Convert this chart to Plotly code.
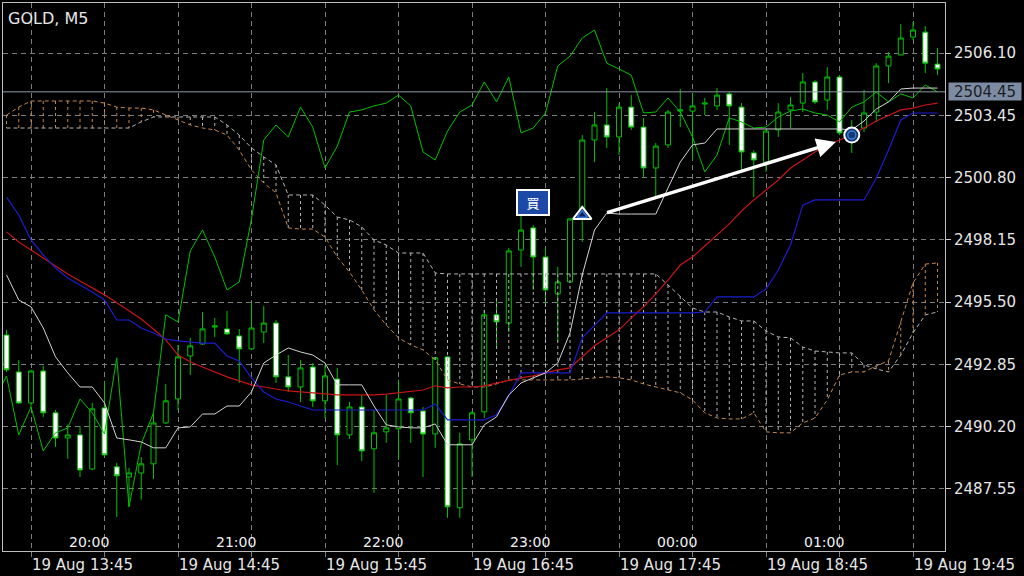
import plotly.graph_objects as go

# ---------------- data ----------------
first_bar = -2  # bar index 0 = 19 Aug 13:45 (M5 bars)

open_ = [2494.10, 2492.53, 2491.21, 2492.57, 2490.79, 2489.72, 2489.85, 2488.40, 2491.00, 2488.49,
         2488.06, 2488.23, 2488.62, 2490.36, 2491.38, 2493.21, 2493.72, 2494.44, 2494.36, 2494.06,
         2493.51, 2494.23, 2494.61, 2492.32, 2491.89, 2492.74, 2491.30, 2492.23, 2489.85, 2491.04,
         2489.26, 2489.98, 2490.11, 2491.42, 2490.87, 2489.89, 2493.17, 2486.75, 2489.64, 2490.83,
         2494.96, 2494.61, 2497.72, 2498.66, 2497.42, 2495.85, 2496.36, 2499.42, 2502.40, 2503.04,
         2502.53, 2503.80, 2502.95, 2501.21, 2502.19, 2503.63, 2503.63, 2503.93, 2503.85, 2504.36,
         2503.80, 2501.85, 2501.46, 2502.83, 2503.68, 2503.97, 2504.87, 2504.10, 2505.08, 2502.70,
         2502.91, 2503.59, 2505.55, 2506.02, 2506.78, 2506.99, 2505.63]
high = [2494.32, 2493.04, 2492.62, 2492.79, 2490.91, 2490.28, 2490.23, 2491.21, 2492.15, 2488.66,
        2488.45, 2488.91, 2490.79, 2492.02, 2493.68, 2493.98, 2495.08, 2494.83, 2495.12, 2494.36,
        2495.47, 2495.34, 2494.74, 2493.25, 2493.04, 2492.91, 2492.83, 2492.70, 2491.25, 2491.55,
        2490.91, 2491.55, 2492.19, 2491.47, 2491.04, 2493.17, 2493.21, 2489.94, 2490.87, 2495.17,
        2495.68, 2497.81, 2499.17, 2498.78, 2497.81, 2497.00, 2499.08, 2502.61, 2503.59, 2504.61,
        2503.97, 2504.31, 2503.34, 2502.27, 2503.68, 2504.57, 2504.40, 2504.19, 2504.61, 2504.44,
        2503.97, 2501.97, 2502.83, 2503.97, 2504.23, 2505.25, 2504.95, 2505.50, 2505.16, 2503.25,
        2504.53, 2505.67, 2506.14, 2507.33, 2507.42, 2507.25, 2506.31]
low = [2492.53, 2491.17, 2491.00, 2490.62, 2489.34, 2488.83, 2488.06, 2488.36, 2488.91, 2486.36,
       2486.79, 2487.09, 2487.98, 2490.32, 2490.91, 2492.40, 2493.68, 2494.02, 2494.10, 2492.06,
       2493.47, 2493.76, 2492.06, 2491.68, 2491.25, 2491.04, 2490.57, 2488.57, 2489.68, 2488.74,
       2487.38, 2489.51, 2488.79, 2489.51, 2488.06, 2489.30, 2486.32, 2486.32, 2488.06, 2490.57,
       2493.59, 2494.23, 2497.00, 2496.02, 2495.47, 2493.81, 2496.32, 2498.06, 2501.46, 2502.06,
       2501.76, 2502.83, 2500.83, 2499.97, 2502.06, 2502.95, 2501.55, 2503.46, 2503.68, 2502.19,
       2500.99, 2499.97, 2501.04, 2502.53, 2502.91, 2503.59, 2503.93, 2503.68, 2502.61, 2501.85,
       2502.74, 2503.17, 2504.82, 2506.00, 2506.65, 2505.25, 2505.16]
close = [2492.62, 2491.21, 2492.57, 2490.79, 2489.72, 2489.85, 2488.36, 2490.96, 2489.00, 2488.11,
         2488.23, 2488.62, 2490.36, 2491.30, 2493.17, 2493.64, 2494.36, 2494.49, 2494.15, 2493.51,
         2494.40, 2494.61, 2492.32, 2491.89, 2492.70, 2491.30, 2492.36, 2489.85, 2491.04, 2489.17,
         2489.94, 2490.15, 2491.38, 2490.79, 2489.89, 2493.13, 2486.79, 2489.47, 2490.79, 2494.96,
         2494.66, 2497.68, 2498.57, 2497.42, 2496.02, 2496.36, 2499.04, 2502.40, 2503.04, 2502.53,
         2503.80, 2502.95, 2501.21, 2502.14, 2503.59, 2503.68, 2503.85, 2503.97, 2504.31, 2503.85,
         2501.89, 2501.55, 2502.78, 2503.59, 2503.89, 2504.87, 2504.02, 2505.08, 2502.70, 2502.91,
         2503.55, 2505.55, 2505.97, 2506.74, 2507.08, 2505.67, 2505.42]
# closes of the 26 later bars (only visible through the lagging span)
future_close = [2505.16, 2503.55, 2503.59, 2504.19, 2503.59, 2502.53, 2501.04, 2501.76, 2503.34, 2503.17,
                2502.91, 2502.95, 2503.38, 2503.63, 2503.72, 2503.55, 2503.46, 2503.17, 2503.80, 2504.02,
                2504.44, 2504.02, 2504.36, 2504.19, 2504.74, 2504.45]
chikou_shift = 26

tenkan = [2496.66, 2495.59, 2495.30, 2494.40, 2493.17, 2492.49, 2491.89, 2491.89, 2491.21, 2489.72,
          2489.64, 2489.55, 2489.30, 2489.30, 2490.15, 2490.19, 2490.74, 2490.74, 2491.08, 2491.08,
          2491.68, 2492.91, 2493.25, 2493.55, 2493.38, 2493.25, 2492.91, 2491.98, 2491.98, 2491.98,
          2491.08, 2490.28, 2490.19, 2490.15, 2490.15, 2490.32, 2489.43, 2489.43, 2489.43, 2490.28,
          2490.62, 2491.55, 2492.06, 2492.28, 2492.49, 2492.91, 2494.19, 2496.66, 2498.57, 2499.29,
          2499.25, 2499.25, 2499.25, 2499.25, 2500.36, 2501.46, 2502.19, 2502.27, 2502.87, 2502.87,
          2502.87, 2502.87, 2502.87, 2502.87, 2502.87, 2502.87, 2502.87, 2502.87, 2502.87, 2502.83,
          2503.21, 2503.72, 2504.02, 2504.57, 2504.61, 2504.61, 2504.61]
kijun = [2499.97, 2499.21, 2498.15, 2497.51, 2496.95, 2496.53, 2496.23, 2495.93, 2495.59, 2494.74,
         2494.74, 2494.40, 2494.19, 2493.93, 2493.85, 2493.81, 2493.76, 2493.76, 2493.21, 2493.00,
         2492.28, 2491.68, 2491.38, 2491.25, 2491.08, 2490.91, 2490.91, 2490.91, 2490.91, 2490.91,
         2490.91, 2490.91, 2490.91, 2490.91, 2490.91, 2491.17, 2490.49, 2490.49, 2490.49, 2490.49,
         2490.70, 2491.51, 2492.49, 2492.49, 2492.49, 2492.49, 2492.49, 2493.98, 2494.53, 2495.04,
         2495.04, 2495.04, 2495.04, 2495.04, 2495.04, 2495.04, 2495.04, 2495.08, 2495.72, 2495.72,
         2495.72, 2495.72, 2496.06, 2496.87, 2497.93, 2499.63, 2499.85, 2499.85, 2499.85, 2499.85,
         2499.85, 2500.78, 2501.97, 2503.25, 2503.55, 2503.55, 2503.55]
moving_avg = [2498.49, 2498.06, 2497.72, 2497.38, 2497.04, 2496.70, 2496.40, 2496.10, 2495.81, 2495.47,
              2495.12, 2494.78, 2494.36, 2493.89, 2493.25, 2492.96, 2492.74, 2492.53, 2492.32, 2492.15,
              2491.98, 2491.89, 2491.81, 2491.72, 2491.68, 2491.64, 2491.59, 2491.55, 2491.55, 2491.55,
              2491.55, 2491.59, 2491.64, 2491.68, 2491.76, 2491.94, 2491.85, 2491.89, 2491.89, 2491.94,
              2492.06, 2492.15, 2492.28, 2492.36, 2492.49, 2492.62, 2492.70, 2493.17, 2493.64, 2493.98,
              2494.32, 2494.83, 2495.30, 2495.85, 2496.44, 2497.08, 2497.42, 2497.89, 2498.36, 2498.83,
              2499.38, 2499.85, 2500.27, 2500.70, 2501.21, 2501.55, 2501.89, 2502.19, 2502.40, 2502.65,
              2502.91, 2503.21, 2503.46, 2503.68, 2503.76, 2503.89, 2503.97]
span_a = [2503.46, 2503.80, 2504.06, 2504.06, 2504.06, 2504.06, 2504.06, 2504.06, 2503.97, 2503.80,
          2503.76, 2503.76, 2503.68, 2503.46, 2503.25, 2503.04, 2502.91, 2502.83, 2502.61, 2501.97,
          2501.12, 2500.57, 2500.15, 2498.66, 2498.61, 2498.61, 2498.27, 2497.42, 2496.78, 2496.02,
          2495.17, 2494.53, 2493.98, 2493.68, 2493.47, 2493.04, 2492.19, 2492.02, 2491.89, 2491.89,
          2492.02, 2492.19, 2492.19, 2492.19, 2492.19, 2492.19, 2492.19, 2492.23, 2492.28, 2492.32,
          2492.28, 2492.19, 2492.02, 2491.89, 2491.76, 2491.64, 2491.34, 2490.79, 2490.57, 2490.53,
          2490.53, 2490.79, 2489.98, 2489.94, 2489.94, 2490.36, 2490.57, 2491.34, 2492.40, 2492.53,
          2492.53, 2492.79, 2493.00, 2494.66, 2496.32, 2497.12, 2497.17]
span_b = [2502.91, 2502.91, 2502.91, 2502.91, 2502.91, 2502.91, 2502.91, 2502.91, 2502.91, 2502.91,
          2502.91, 2503.17, 2503.38, 2503.38, 2503.38, 2503.38, 2503.38, 2503.38, 2503.04, 2502.61,
          2502.06, 2501.68, 2501.34, 2500.06, 2500.06, 2500.06, 2499.63, 2499.12, 2499.00, 2498.70,
          2498.15, 2497.93, 2497.59, 2497.59, 2497.59, 2496.74, 2496.70, 2496.70, 2496.70, 2496.70,
          2496.70, 2496.70, 2496.70, 2496.70, 2496.70, 2496.70, 2496.70, 2496.70, 2496.70, 2496.70,
          2496.70, 2496.70, 2496.70, 2496.70, 2496.23, 2495.76, 2495.25, 2495.08, 2495.08, 2494.87,
          2494.70, 2494.70, 2494.27, 2494.02, 2493.98, 2493.59, 2493.42, 2493.38, 2493.34, 2493.34,
          2492.83, 2492.66, 2492.53, 2493.25, 2494.19, 2494.96, 2495.08]

price_ticks = [2487.55, 2490.20, 2492.85, 2495.50, 2498.15, 2500.80, 2503.45, 2506.10]
current_price = 2504.45

grid_bars = list(range(0, 73, 6))
date_label_bars = [0, 12, 24, 36, 48, 60, 72]
date_labels = ["19 Aug 13:45", "19 Aug 14:45", "19 Aug 15:45", "19 Aug 16:45",
               "19 Aug 17:45", "19 Aug 18:45", "19 Aug 19:45"]
hour_labels = ["20:00", "21:00", "22:00", "23:00", "00:00", "01:00", "02:00"]

buy_label_bar, buy_label_price = 41, 2499.76
entry_bar, entry_price = 45, 2499.21
exit_bar, exit_price = 67, 2502.61
arrow_bars = [46.9, 65.7]
arrow_prices = [2499.29, 2502.31]

# ---------------- figure ----------------
bars = list(range(first_bar, first_bar + len(close)))
FONT = "DejaVu Sans"
GRID = "#7c7c7c"
fig = go.Figure()

# cloud hatching
hx_o, hy_o, hx_g, hy_g = [], [], [], []
for b, a, s in zip(bars, span_a, span_b):
    if a > s:
        hx_o += [b, b, None]; hy_o += [a, s, None]
    else:
        hx_g += [b, b, None]; hy_g += [s, a, None]
fig.add_trace(go.Scatter(x=hx_o, y=hy_o, mode="lines", line=dict(color="#c8874a", width=1, dash="3px,3px"), hoverinfo="skip"))
fig.add_trace(go.Scatter(x=hx_g, y=hy_g, mode="lines", line=dict(color="#b4b4b4", width=1, dash="3px,3px"), hoverinfo="skip"))
fig.add_trace(go.Scatter(x=bars, y=span_a, mode="lines", line=dict(color="#c8874a", width=1, dash="4px,3px"), hoverinfo="skip"))
fig.add_trace(go.Scatter(x=bars, y=span_b, mode="lines", line=dict(color="#b4b4b4", width=1, dash="4px,3px"), hoverinfo="skip"))

# candles
fig.add_trace(go.Candlestick(
    x=bars, open=open_, high=high, low=low, close=close,
    increasing=dict(line=dict(color="#00c000", width=1), fillcolor="#000000"),
    decreasing=dict(line=dict(color="#00c000", width=1), fillcolor="#ffffff"),
    whiskerwidth=0, hoverinfo="skip"))

# indicator lines
all_close = close + future_close
chikou_x = [b - chikou_shift for b in range(first_bar, first_bar + len(all_close))]
fig.add_trace(go.Scatter(x=chikou_x, y=all_close, mode="lines", line=dict(color="#00c000", width=1), hoverinfo="skip"))
fig.add_trace(go.Scatter(x=bars, y=moving_avg, mode="lines", line=dict(color="#c81414", width=1.2), hoverinfo="skip"))
fig.add_trace(go.Scatter(x=bars, y=kijun, mode="lines", line=dict(color="#1c1cd2", width=1.2), hoverinfo="skip"))
fig.add_trace(go.Scatter(x=bars, y=tenkan, mode="lines", line=dict(color="#d2d2d2", width=1), hoverinfo="skip"))

# trade markers
fig.add_trace(go.Scatter(x=[entry_bar], y=[entry_price], mode="markers",
                         marker=dict(symbol="triangle-up", size=16, color="#0d2356", line=dict(color="white", width=2)), hoverinfo="skip"))
fig.add_trace(go.Scatter(x=[entry_bar], y=[entry_price], mode="markers",
                         marker=dict(symbol="triangle-up-open", size=9, color="#3a6fd8", line=dict(color="#3a6fd8", width=1.5)), hoverinfo="skip"))
fig.add_trace(go.Scatter(x=[exit_bar], y=[exit_price], mode="markers",
                         marker=dict(symbol="circle", size=15, color="#123a70", line=dict(color="white", width=2)), hoverinfo="skip"))
fig.add_trace(go.Scatter(x=[exit_bar], y=[exit_price], mode="markers",
                         marker=dict(symbol="circle-open", size=8, color="#3d78d8", line=dict(color="#3d78d8", width=1.5)), hoverinfo="skip"))

annotations = []
annotations.append(dict(x=arrow_bars[1], y=arrow_prices[1], ax=arrow_bars[0], ay=arrow_prices[0],
                        xref="x", yref="y", axref="x", ayref="y", text="", showarrow=True,
                        arrowhead=2, arrowsize=1.1, arrowwidth=3.5, arrowcolor="white"))
annotations.append(dict(x=buy_label_bar, y=buy_label_price, xref="x", yref="y", text="買", showarrow=False,
                        font=dict(family="Noto Sans CJK JP", size=13, color="white"),
                        bgcolor="#1c48a8", bordercolor="white", borderwidth=2, borderpad=2,
                        width=26, height=19))
annotations.append(dict(x=0, y=1, xref="paper", yref="paper", xanchor="left", yanchor="top",
                        xshift=3, yshift=-4, text="GOLD, M5", showarrow=False,
                        font=dict(family=FONT, size=16, color="#e6e6e6")))
for b, t in zip(date_label_bars, date_labels):
    annotations.append(dict(x=b, y=0, xref="x", yref="paper", xanchor="left", yanchor="top",
                            yshift=-3, xshift=-1, text=t, showarrow=False,
                            font=dict(family=FONT, size=15, color="#e6e6e6")))
for b, t in zip(date_label_bars, hour_labels):
    annotations.append(dict(x=b + 4.7, y=0, xref="x", yref="paper", xanchor="center", yanchor="bottom",
                            yshift=-1, text=t, showarrow=False,
                            font=dict(family=FONT, size=14, color="#f2f2f2")))
annotations.append(dict(x=1, y=current_price, xref="paper", yref="y", xanchor="left", yanchor="middle",
                        xshift=3, text=f"{current_price:.2f}", showarrow=False,
                        font=dict(family=FONT, size=15, color="#1a1e24"),
                        bgcolor="#7d8ca2", borderpad=0, width=72, height=17))

fig.add_shape(type="line", xref="paper", x0=0, x1=1, yref="y", y0=current_price, y1=current_price,
              line=dict(color="#8e98a6", width=1))

fig.update_layout(
    width=1024, height=576,
    paper_bgcolor="black", plot_bgcolor="black",
    margin=dict(l=3, r=79, t=3, b=25),
    showlegend=False, hovermode=False, boxgap=0.42,
    annotations=annotations,
    xaxis=dict(range=[-2.286, 74.61], rangeslider=dict(visible=False),
               tickmode="array", tickvals=grid_bars, showticklabels=False,
               ticks="outside", ticklen=5, tickcolor=GRID,
               showgrid=True, gridcolor=GRID, griddash="5px,4px", gridwidth=1,
               showline=True, linecolor="#bdbdbd", linewidth=1, mirror=True, zeroline=False),
    yaxis=dict(range=[2484.91, 2508.23], side="right",
               tickmode="array", tickvals=price_ticks, ticktext=[f"{p:.2f}" for p in price_ticks],
               ticks="outside", ticklen=5, tickcolor="#d0d0d0",
               tickfont=dict(family=FONT, size=15, color="#e6e6e6"),
               showgrid=True, gridcolor=GRID, griddash="5px,4px", gridwidth=1,
               showline=True, linecolor="#bdbdbd", linewidth=1, mirror=True, zeroline=False),
)

fig.write_html("out.html", config={"displayModeBar": False},
               post_script="document.body.style.margin='0';document.body.style.padding='0';"
                           "document.documentElement.style.background='black';")
